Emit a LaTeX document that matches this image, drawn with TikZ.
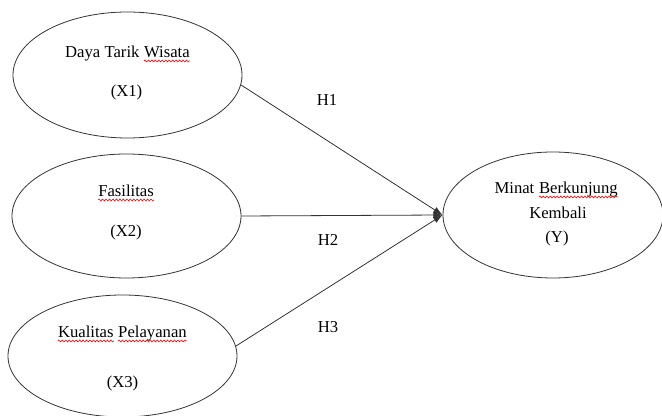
\documentclass[tikz,border=0pt]{standalone}
\usepackage{fontspec}
\setmainfont{Liberation Serif}
\usetikzlibrary{shapes.geometric,arrows.meta,decorations.pathmorphing}

\begin{document}
\begin{tikzpicture}
	[x=0.75pt, y=-0.75pt, var/.style ={ellipse, draw=black!80, line width=0.6pt, inner sep=0pt},
	txt/.style ={inner sep=0pt, font=\fontsize{12.5}{15}\selectfont},
	spell/.style ={red, line width=0.45pt, decorate, decoration={snake, amplitude=0.7pt, segment length=2.6pt}},
	link/.style ={draw=black!80, line width=0.6pt, -{Latex[length=7pt,width=5pt]}}]
	\useasboundingbox (0,0) rectangle (662,416);
	% variables
	\node[var, minimum width=171.75pt, minimum height=94.5pt] (x1) at (127.5,75) {};
	\node[var, minimum width=171.75pt, minimum height=93pt] (x2) at (126.5,216) {};
	\node[var, minimum width=171.75pt, minimum height=91.5pt] (x3) at (122.5,356) {};
	\node[var, minimum width=165pt, minimum height=94.5pt] (y) at (553,215) {};
	% texts
	\node[txt, anchor=base east] (x1b) at (190,58) {Wisata};
	\node[txt, anchor=base east] (x1a) at ([xshift=-3.1pt]x1b.base west) {Daya Tarik};
	\node[txt, anchor=base] (x1c) at (126.5,97) {(X1)};
	\node[txt, anchor=base west] (x2a) at (98,197) {Fasilitas};
	\node[txt, anchor=base] (x2b) at (126,237) {(X2)};
	\node[txt, anchor=base east] (x3b) at (187,338) {Pelayanan};
	\node[txt, anchor=base east] (x3a) at ([xshift=-3.1pt]x3b.base west) {Kualitas};
	\node[txt, anchor=base] (x3c) at (122.5,388) {(X3)};
	\node[txt, anchor=base east] (yb) at (618,194) {Berkunjung};
	\node[txt, anchor=base east] (ya) at ([xshift=-3.1pt]yb.base west) {Minat};
	\node[txt, anchor=base] (yc) at (558,219) {Kembali};
	\node[txt, anchor=base] (yd) at (557,243) {(Y)};
	% spelling marks
	\foreach \w in {x1b,x2a,x3a,x3b,yb}
		\draw[spell] ([yshift=-2.2pt]\w.base west) -- ([yshift=-2.2pt]\w.base east);
	% hypotheses
	\draw[link] (x1.-5) -- (y.west);
	\draw[link] (x2.east) -- (y.west);
	\draw[link] (x3.5) -- (y.west);
	\node[txt] (h1) at (327,100) {H1};
	\node[txt] (h2) at (328,240) {H2};
	\node[txt] (h3) at (328,327) {H3};
\end{tikzpicture}
\end{document}
